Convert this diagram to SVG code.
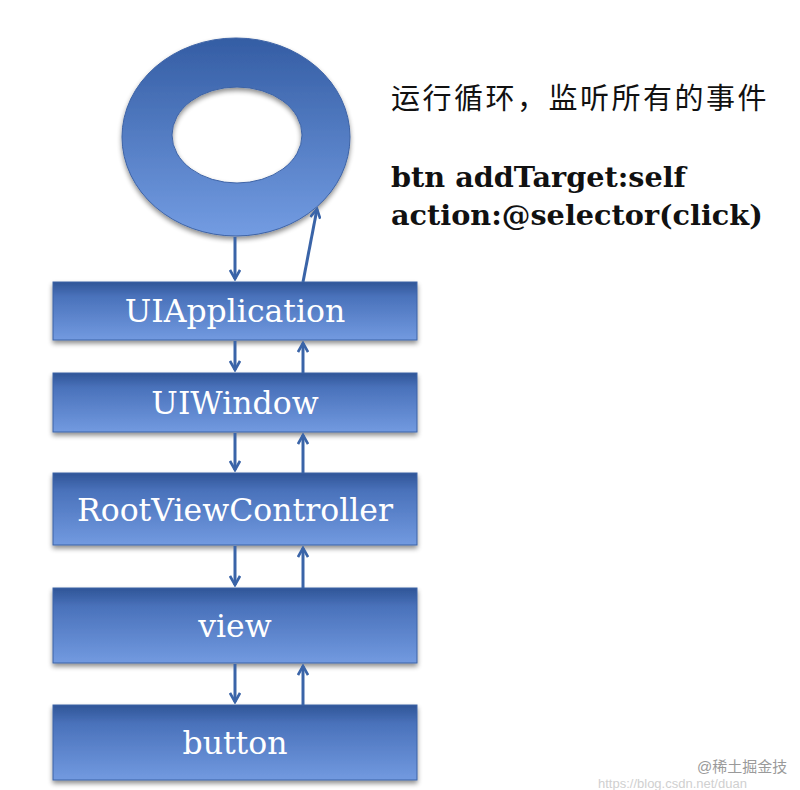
<svg xmlns="http://www.w3.org/2000/svg" width="800" height="790" viewBox="0 0 800 790">
<defs>
<linearGradient id="gBox" x1="0" y1="0" x2="0" y2="1">
<stop offset="0" stop-color="#2f5597"/>
<stop offset="0.25" stop-color="#4a72bb"/>
<stop offset="1" stop-color="#729ae0"/>
</linearGradient>
<linearGradient id="gRing" x1="0" y1="0" x2="0" y2="1">
<stop offset="0" stop-color="#345da4"/>
<stop offset="1" stop-color="#739ce2"/>
</linearGradient>
<filter id="sh" x="-10%" y="-20%" width="120%" height="150%">
<feGaussianBlur in="SourceAlpha" stdDeviation="2.5"/>
<feOffset dx="0" dy="3" result="b"/>
<feComponentTransfer><feFuncA type="linear" slope="0.45"/></feComponentTransfer>
<feMerge><feMergeNode/><feMergeNode in="SourceGraphic"/></feMerge>
</filter>
<marker id="ah" viewBox="0 0 12 12" refX="10" refY="6" markerWidth="12" markerHeight="12" markerUnits="userSpaceOnUse" orient="auto">
<path d="M1,1 L10,6 L1,11" fill="none" stroke="#3a64a8" stroke-width="2.6" stroke-linejoin="miter"/>
</marker>
</defs>
<style>
.box{fill:url(#gBox);stroke:#3d63a6;stroke-width:1;filter:url(#sh)}
.lbl{font-family:"DejaVu Serif","Liberation Serif",serif;font-size:31.5px;fill:#ffffff;text-anchor:middle}
.con{stroke:#3a64a8;stroke-width:3;fill:none;marker-end:url(#ah)}
.note{font-family:"Liberation Sans","Noto Sans CJK SC",sans-serif;font-size:29px;letter-spacing:2.5px;fill:#111}
.code{font-family:"DejaVu Serif","Liberation Serif",serif;font-weight:bold;font-size:28.7px;fill:#111}
</style>
<rect width="800" height="790" fill="#ffffff"/>

<g id="runloop">
<path fill="url(#gRing)" fill-rule="evenodd" stroke="#3d63a6" stroke-width="1" filter="url(#sh)" d="M122,137 a114,99 0 1,0 228,0 a114,99 0 1,0 -228,0 Z M172,135 a65,48 0 1,1 130,0 a65,48 0 1,1 -130,0 Z"/>
</g>

<g id="uiapplication">
<rect class="box" x="53" y="282" width="364" height="58"/>
<text class="lbl" x="235" y="322">UIApplication</text>
</g>
<g id="uiwindow">
<rect class="box" x="53" y="373" width="364" height="59"/>
<text class="lbl" x="235" y="414">UIWindow</text>
</g>
<g id="rootviewcontroller">
<rect class="box" x="53" y="473" width="364" height="72"/>
<text class="lbl" x="235" y="521">RootViewController</text>
</g>
<g id="view">
<rect class="box" x="53" y="588" width="364" height="75"/>
<text class="lbl" x="235" y="637">view</text>
</g>
<g id="button">
<rect class="box" x="53" y="705" width="364" height="75"/>
<text class="lbl" x="235" y="754">button</text>
</g>

<g id="connectors">
<line class="con" x1="235" y1="237" x2="235" y2="279"/>
<line class="con" x1="303" y1="282" x2="317" y2="209"/>
<line class="con" x1="235" y1="341" x2="235" y2="370"/>
<line class="con" x1="303" y1="373" x2="303" y2="343"/>
<line class="con" x1="235" y1="433" x2="235" y2="470"/>
<line class="con" x1="303" y1="473" x2="303" y2="435"/>
<line class="con" x1="235" y1="546" x2="235" y2="585"/>
<line class="con" x1="303" y1="588" x2="303" y2="548"/>
<line class="con" x1="235" y1="664" x2="235" y2="702"/>
<line class="con" x1="303" y1="705" x2="303" y2="666"/>
</g>

<g id="notes">
<text class="note" x="391" y="109">运行循环，监听所有的事件</text>
<text class="code" x="391" y="187">btn addTarget:self</text>
<text class="code" x="391" y="225">action:@selector(click)</text>
</g>
<g id="watermark">
<text x="697" y="772" font-family="Liberation Sans,'Noto Sans CJK SC',sans-serif" font-size="15" fill="#9a9a9a">@稀土掘金技</text>
<text x="598" y="788" font-family="Liberation Sans,sans-serif" font-size="13" fill="#d0d0d0">https://blog.csdn.net/duan</text>
</g>
</svg>
